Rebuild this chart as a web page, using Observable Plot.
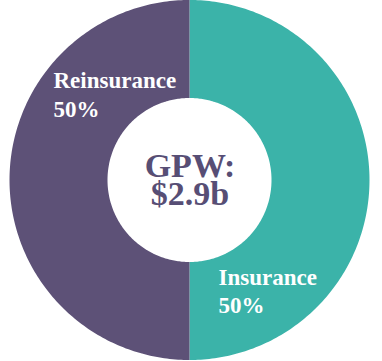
<!DOCTYPE html>
<html>
<head>
<meta charset="utf-8">
<script src="https://cdn.jsdelivr.net/npm/d3@7"></script>
<script src="https://cdn.jsdelivr.net/npm/@observablehq/plot@0.6"></script>
<style>
  html, body { margin: 0; padding: 0; background: #ffffff; }
  #chart { width: 382px; height: 361px; }
</style>
</head>
<body>
<div id="chart"></div>
<script>
// Data
const categories = ["Insurance", "Reinsurance"];
const shares = [50, 50];            // percent of GPW
const colors = ["#3BB3A9", "#5D5177"];
const totalLabel = ["GPW:", "$2.9b"];

// Geometry (pixel units)
const W = 382, H = 361;
const cx = 189.5, cy = 180;
const rOuter = 180, rInner = 82;

// Build ring-segment samples from the shares (angle clockwise from 12 o'clock)
const total = d3.sum(shares);
const pts = [];
let acc = 0;
categories.forEach((name, i) => {
  const a0 = acc / total * 2 * Math.PI;
  acc += shares[i];
  const a1 = acc / total * 2 * Math.PI;
  const n = 200;
  for (let k = 0; k <= n; k++) {
    const t = a0 + (a1 - a0) * k / n;
    pts.push({name, t});
  }
});

const serif = "'Times New Roman', 'Liberation Serif', serif";
const center = [{}];

const chart = Plot.plot({
  width: W,
  height: H,
  margin: 0,
  x: {domain: [-cx, W - cx], range: [0, W], axis: null},
  y: {domain: [-(H - cy), cy], range: [H, 0], axis: null},
  color: {domain: categories, range: colors},
  style: {background: "#ffffff"},
  marks: [
    Plot.area(pts, {
      x1: d => rInner * Math.sin(d.t),
      y1: d => rInner * Math.cos(d.t),
      x2: d => rOuter * Math.sin(d.t),
      y2: d => rOuter * Math.cos(d.t),
      z: "name",
      fill: "name",
      curve: "linear"
    }),
    // Center total (two lines in one text element)
    Plot.text(center, {x: () => 0, y: () => 0, text: () => totalLabel.join("\n"), dx: 0, dy: 24,
      lineAnchor: "bottom", lineHeight: 0.8, textAnchor: "middle", fontSize: 34, fontWeight: "bold",
      fontFamily: serif, fill: "#574E75"}),
    // Slice labels
    Plot.text(center, {x: () => 0, y: () => 0, text: () => categories[1] + "\n" + shares[1] + "%", dx: -136.5, dy: -63.5,
      lineAnchor: "bottom", lineHeight: 29.5 / 23, textAnchor: "start", fontSize: 23, fontWeight: "bold",
      fontFamily: serif, fill: "#ffffff"}),
    Plot.text(center, {x: () => 0, y: () => 0, text: () => categories[0] + "\n" + shares[0] + "%", dx: 28.5, dy: 132,
      lineAnchor: "bottom", lineHeight: 27.5 / 23, textAnchor: "start", fontSize: 23, fontWeight: "bold",
      fontFamily: serif, fill: "#ffffff"})
  ]
});
document.getElementById("chart").appendChild(chart);
</script>
</body>
</html>
